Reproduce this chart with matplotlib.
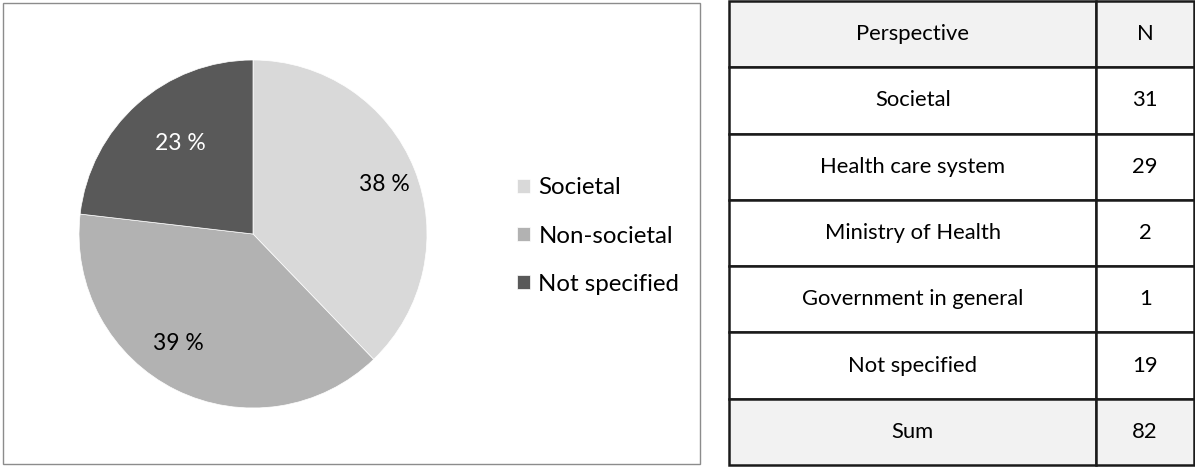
import matplotlib.pyplot as plt
from matplotlib.patches import Rectangle

plt.rcParams['font.family'] = ['Lato', 'DejaVu Sans']

# Pie: study perspective grouped into three classes
pie_labels = ['Societal', 'Non-societal', 'Not specified']
pie_counts = [31, 32, 19]
pie_colors = ['#d9d9d9', '#b2b2b2', '#595959']
pct_colors = ['black', 'black', 'white']

# Table: perspective breakdown
perspectives = ['Societal', 'Health care system', 'Ministry of Health',
                'Government in general', 'Not specified']
n_studies = [31, 29, 2, 1, 19]

fig = plt.figure(figsize=(11.95, 4.67), dpi=100)

# frame round the pie chart
fig.patches.append(Rectangle((3 / 1195, 3 / 467), 697 / 1195, 461 / 467,
                             transform=fig.transFigure, fill=False,
                             edgecolor='#8c8c8c', linewidth=1.0))

ax = fig.add_axes([79 / 1195, 59 / 467, 348 / 1195, 348 / 467])
wedges, texts, autotexts = ax.pie(
    pie_counts, colors=pie_colors, startangle=90, counterclock=False,
    autopct=lambda p: f'{p:.0f} %', pctdistance=0.76,
    wedgeprops=dict(linewidth=0.5, edgecolor='white'),
    textprops=dict(fontsize=16.5))
for t, c in zip(autotexts, pct_colors):
    t.set_color(c)
# nudge the labels a little round the pie
x, y = autotexts[0].get_position()
autotexts[0].set_position((x + 0.05, y))
x, y = autotexts[1].get_position()
autotexts[1].set_position((x - 0.09, y + 0.05))
x, y = autotexts[2].get_position()
autotexts[2].set_position((x + 0.09, y - 0.05))
ax.set_xlim(-1, 1)
ax.set_ylim(-1, 1)
ax.set_aspect('equal')

fig.legend(wedges, pie_labels, loc='center left',
           bbox_to_anchor=(495 / 1195, 1 - 236 / 467), frameon=False,
           fontsize=17.3, handlelength=0.55, handleheight=0.55,
           handletextpad=0.35, labelspacing=1.13)

# table on the right
tax = fig.add_axes([729 / 1195, 2 / 467, 465 / 1195, 464 / 467])
tax.axis('off')
cell_text = [['Perspective', 'N']]
cell_text += [[p, str(n)] for p, n in zip(perspectives, n_studies)]
cell_text.append(['Sum', str(sum(n_studies))])
tbl = tax.table(cellText=cell_text, cellLoc='center', colWidths=[0.79, 0.21],
                bbox=[0, 0, 1, 1])
tbl.auto_set_font_size(False)
tbl.set_fontsize(15.8)
nrows = len(cell_text)
for (r, c), cell in tbl.get_celld().items():
    cell.set_linewidth(1.8)
    cell.set_edgecolor('#1a1a1a')
    if r == 0 or r == nrows - 1:
        cell.set_facecolor('#f2f2f2')

fig.savefig('out.png', dpi=100)
